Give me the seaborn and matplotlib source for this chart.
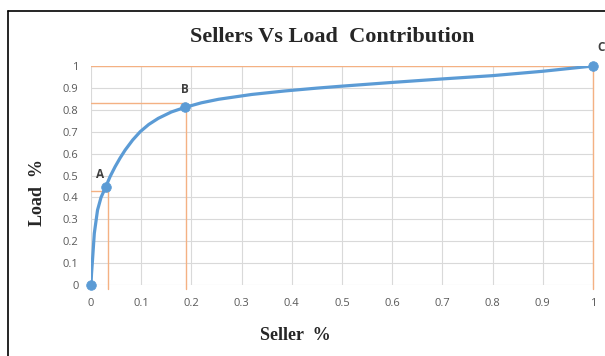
import matplotlib
matplotlib.use("Agg")
import matplotlib.pyplot as plt
import numpy as np
import pandas as pd
import seaborn as sns

# curve
seller = [0, 0.001, 0.003, 0.0066, 0.013, 0.02, 0.029, 0.038, 0.048, 0.058, 0.068,
          0.083, 0.098, 0.115, 0.134, 0.16, 0.187, 0.22, 0.254, 0.32, 0.386, 0.45,
          0.5, 0.6, 0.7, 0.8, 0.9, 1.0]
load = [0, 0.05, 0.114, 0.236, 0.342, 0.40, 0.446, 0.495, 0.54, 0.58, 0.616,
        0.662, 0.70, 0.733, 0.761, 0.79, 0.811, 0.832, 0.848, 0.87, 0.886, 0.899,
        0.908, 0.925, 0.941, 0.956, 0.976, 1.0]

pt_names = ["", "A", "B", "C"]
pt_x = [0, 0.029, 0.187, 1.0]
pt_y = [0, 0.446, 0.811, 1.0]

# orange guide lines
guide_x = [0.034, 0.19, 1.0]
guide_y = [0.43, 0.83, 1.0]

ticks = [round(i * 0.1, 1) for i in range(11)]
tick_labels = ["0", "0.1", "0.2", "0.3", "0.4", "0.5", "0.6", "0.7", "0.8", "0.9", "1"]

blue = "#5B9BD5"
orange = "#F4B183"

sns.set_style("white")
fig = plt.figure(figsize=(6.05, 3.56), dpi=100)
ax = fig.add_axes([91 / 605, 1 - 285 / 356, 502 / 605, 219 / 356])

df = pd.DataFrame({"seller": seller, "load": load})
pts = pd.DataFrame({"x": pt_x, "y": pt_y})

for gx, gy in zip(guide_x, guide_y):
    ax.plot([0, gx], [gy, gy], color=orange, lw=1.0, zorder=2)
    ax.plot([gx, gx], [-0.02, gy], color=orange, lw=1.0, zorder=2, clip_on=False)

sns.lineplot(data=df, x="seller", y="load", ax=ax, color=blue, lw=2.3,
             sort=False, zorder=3)
line = ax.get_lines()[-1]
line.set_solid_joinstyle("round")
line.set_solid_capstyle("round")
sns.scatterplot(data=pts, x="x", y="y", ax=ax, color=blue, s=48,
                edgecolor=blue, zorder=4, clip_on=False)

offsets = {"A": (-0.01, 0.06), "B": (0.0, 0.08), "C": (0.016, 0.085)}
for n, x, y in zip(pt_names, pt_x, pt_y):
    if n:
        dx, dy = offsets[n]
        ax.text(x + dx, y + dy, n, ha="center", va="center", fontsize=8.5,
                fontweight="bold", color="#404040", family="Open Sans",
                clip_on=False)

ax.set_xlim(0, 1)
ax.set_ylim(0, 1)
ax.set_xticks(ticks)
ax.set_yticks(ticks)
ax.set_xticklabels(tick_labels)
ax.set_yticklabels(tick_labels)
ax.tick_params(length=0, labelsize=8, labelcolor="#595959", pad=9)
for lab in ax.get_xticklabels() + ax.get_yticklabels():
    lab.set_family("Open Sans")
ax.grid(True, color="#D9D9D9", lw=0.8)
for s in ax.spines.values():
    s.set_visible(False)
ax.set_xlabel("")
ax.set_ylabel("")

fig.text(0.549, 1 - 37 / 356, "Sellers Vs Load  Contribution", ha="center",
         va="center", fontsize=16, fontweight="bold", family="Liberation Serif")
fig.text(295 / 605, 1 - 336 / 356, "Seller  %", ha="center", va="center",
         fontsize=13, fontweight="bold", family="Liberation Serif")
fig.text(38 / 605, 1 - 192 / 356, "Load  %", ha="center", va="center",
         fontsize=13, fontweight="bold", family="Liberation Serif", rotation=90)

# outer frame (left and top edges)
fig.add_artist(plt.Line2D([8 / 605, 8 / 605], [0, 1 - 11 / 356], color="black",
                          lw=1.2, transform=fig.transFigure))
fig.add_artist(plt.Line2D([8 / 605, 1], [1 - 11 / 356, 1 - 11 / 356], color="black",
                          lw=1.2, transform=fig.transFigure))

fig.savefig("out.png", dpi=100)
